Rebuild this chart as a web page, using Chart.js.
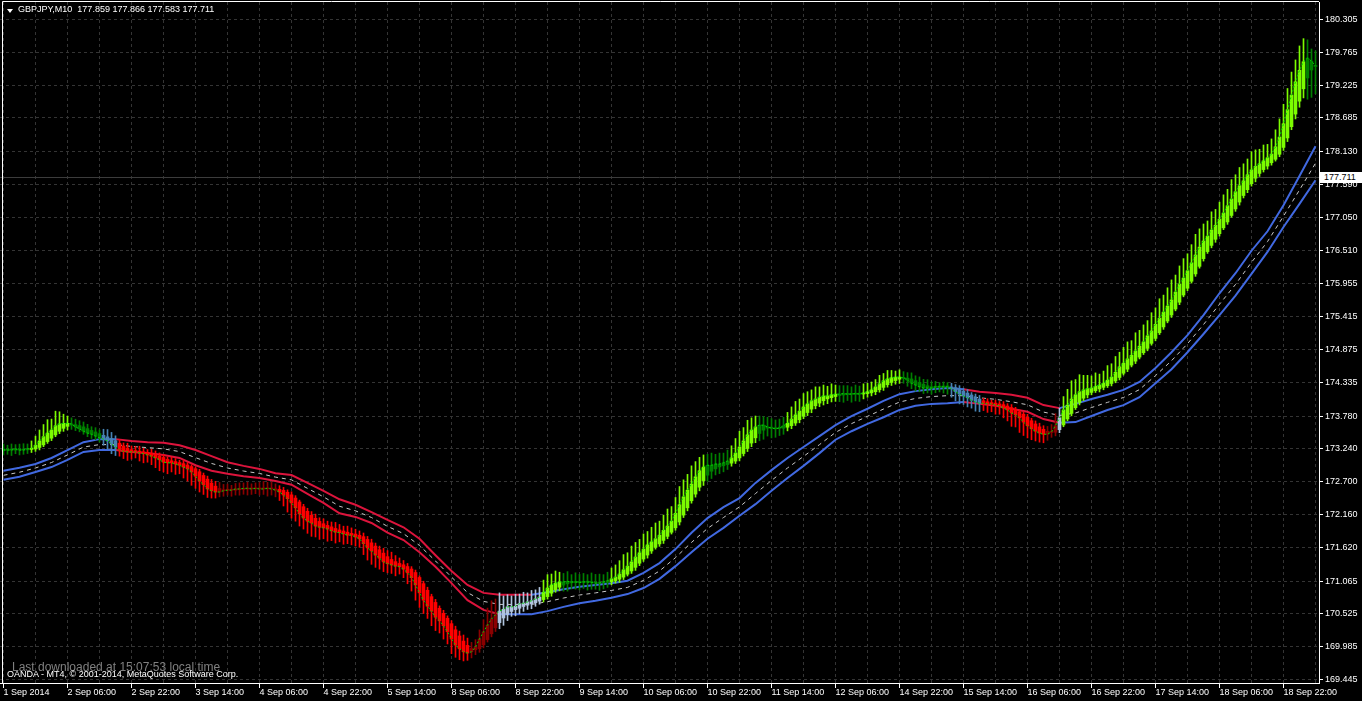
<!DOCTYPE html>
<html lang="en">
<head>
<meta charset="UTF-8">
<title>GBPJPY,M10</title>
<style>
    html, body {
        margin: 0;
        padding: 0;
        background: #000;
        overflow: hidden;
    }
    #wrap {
        position: relative;
        width: 1362px;
        height: 701px;
    }
    canvas { display: block; }
    .txt {
        position: absolute;
        font-family: 'Liberation Sans', Arial, sans-serif;
        white-space: nowrap;
    }
    #tri {
        position: absolute;
        left: 7px;
        top: 9px;
        width: 0;
        height: 0;
        border-left: 3px solid transparent;
        border-right: 3px solid transparent;
        border-top: 4px solid #fff;
    }
    #title { left: 18px; top: 4px; font-size: 9px; line-height: 11px; color: #fff; }
    #dl { left: 12px; top: 660px; font-size: 12px; line-height: 14px; color: #808080; }
    #copy { left: 7px; top: 669px; font-size: 9px; line-height: 11px; color: #fff; }
    #price {
        left: 1320px; top: 172px; width: 38px; height: 11px;
        padding-left: 4px; background: #fff; color: #000;
        font-size: 9px; line-height: 11px;
    }
</style>
</head>
<body>
<div id="wrap">
    <canvas id="chart" width="1362" height="701"></canvas>
    <div id="tri"></div>
    <div class="txt" id="title">GBPJPY,M10&nbsp; 177.859 177.866 177.583 177.711</div>
    <div class="txt" id="dl">Last downloaded at 15:07:53 local time</div>
    <div class="txt" id="copy">OANDA - MT4, © 2001-2014, MetaQuotes Software Corp.</div>
    <div class="txt" id="price">177.711</div>
</div>
<script src="https://cdn.jsdelivr.net/npm/chart.js"></script>
<script>
// time labels, one every 16 bars
const xTickLabels = ['1 Sep 2014', '2 Sep 06:00', '2 Sep 22:00', '3 Sep 14:00', '4 Sep 06:00', '4 Sep 22:00',
    '5 Sep 14:00', '8 Sep 06:00', '8 Sep 22:00', '9 Sep 14:00', '10 Sep 06:00', '10 Sep 22:00', '11 Sep 14:00',
    '12 Sep 06:00', '14 Sep 22:00', '15 Sep 14:00', '16 Sep 06:00', '16 Sep 22:00', '17 Sep 14:00',
    '18 Sep 06:00', '18 Sep 22:00'];

const yTickLabels = [169.445, 169.985, 170.525, 171.065, 171.620, 172.160, 172.700, 173.240, 173.780, 174.335,
    174.875, 175.415, 175.955, 176.510, 177.050, 177.590, 178.130, 178.685, 179.225, 179.765, 180.305];

const lastPrice = 177.711;

// smoothed heiken ashi close, one per bar
const haClose = [
    173.22, 173.22, 173.22, 173.24, 173.22, 173.22, 173.24, 173.25, 173.30, 173.37,
    173.44, 173.50, 173.55, 173.62, 173.65, 173.66, 173.66, 173.65, 173.60, 173.57,
    173.53, 173.50, 173.48, 173.45, 173.42, 173.40, 173.37, 173.32, 173.27, 173.22,
    173.20, 173.19, 173.19, 173.19, 173.17, 173.16, 173.14, 173.12, 173.09, 173.06,
    173.02, 173.01, 173.01, 172.99, 172.97, 172.94, 172.91, 172.86, 172.79, 172.71,
    172.65, 172.58, 172.55, 172.53, 172.53, 172.55, 172.56, 172.56, 172.58, 172.58,
    172.59, 172.59, 172.58, 172.59, 172.58, 172.58, 172.59, 172.58, 172.56, 172.53,
    172.48, 172.42, 172.35, 172.27, 172.17, 172.10, 172.05, 172.02, 171.97, 171.95,
    171.94, 171.92, 171.89, 171.87, 171.86, 171.84, 171.82, 171.82, 171.79, 171.76,
    171.68, 171.61, 171.56, 171.49, 171.44, 171.38, 171.35, 171.33, 171.31, 171.30,
    171.26, 171.20, 171.12, 171.00, 170.87, 170.75, 170.65, 170.57, 170.47, 170.41,
    170.33, 170.23, 170.11, 170.01, 169.95, 169.90, 169.88, 169.90, 169.98, 170.11,
    170.23, 170.34, 170.44, 170.51, 170.57, 170.60, 170.64, 170.64, 170.65, 170.69,
    170.70, 170.72, 170.74, 170.77, 170.80, 170.88, 170.95, 171.00, 171.03, 171.05,
    171.05, 171.06, 171.05, 171.05, 171.04, 171.05, 171.05, 171.04, 171.03, 171.03,
    171.05, 171.07, 171.10, 171.13, 171.18, 171.25, 171.31, 171.38, 171.46, 171.53,
    171.59, 171.66, 171.71, 171.76, 171.82, 171.90, 171.97, 172.05, 172.18, 172.32,
    172.45, 172.56, 172.66, 172.78, 172.88, 172.94, 172.97, 172.97, 172.99, 172.99,
    173.01, 173.04, 173.09, 173.17, 173.27, 173.37, 173.47, 173.55, 173.60, 173.63,
    173.63, 173.60, 173.58, 173.57, 173.58, 173.62, 173.66, 173.73, 173.80, 173.86,
    173.93, 173.98, 174.03, 174.06, 174.09, 174.11, 174.11, 174.13, 174.14, 174.14,
    174.15, 174.14, 174.14, 174.15, 174.14, 174.16, 174.18, 174.21, 174.26, 174.31,
    174.36, 174.39, 174.41, 174.42, 174.42, 174.41, 174.37, 174.32, 174.29, 174.26,
    174.24, 174.24, 174.24, 174.26, 174.26, 174.26, 174.26, 174.23, 174.18, 174.14,
    174.11, 174.08, 174.04, 174.01, 173.99, 173.99, 173.98, 173.98, 173.96, 173.95,
    173.91, 173.88, 173.83, 173.80, 173.75, 173.68, 173.62, 173.57, 173.53, 173.50,
    173.48, 173.48, 173.52, 173.62, 173.75, 173.88, 173.96, 174.06, 174.13, 174.18,
    174.21, 174.23, 174.24, 174.27, 174.29, 174.32, 174.37, 174.42, 174.50, 174.59,
    174.65, 174.72, 174.78, 174.85, 174.93, 175.00, 175.10, 175.18, 175.29, 175.39,
    175.49, 175.59, 175.69, 175.82, 175.95, 176.05, 176.17, 176.30, 176.43, 176.56,
    176.66, 176.74, 176.84, 176.92, 177.02, 177.12, 177.24, 177.35, 177.47, 177.57,
    177.65, 177.75, 177.83, 177.89, 177.93, 177.98, 178.03, 178.09, 178.21, 178.37,
    178.59, 178.82, 179.06, 179.28, 179.47, 179.61, 179.67, 179.62, 179.54
];

// wick length above / below the body, per bar
const upWick = [
    0.10, 0.08, 0.10, 0.07, 0.09, 0.10, 0.08, 0.12, 0.15, 0.18,
    0.20, 0.22, 0.18, 0.24, 0.20, 0.15, 0.12, 0.10, 0.09, 0.08,
    0.08, 0.07, 0.06, 0.07, 0.06, 0.10, 0.12, 0.10, 0.08, 0.06,
    0.05, 0.08, 0.06, 0.07, 0.08, 0.06, 0.05, 0.07, 0.06, 0.05,
    0.05, 0.04, 0.06, 0.05, 0.04, 0.05, 0.04, 0.03, 0.03, 0.04,
    0.04, 0.05, 0.06, 0.08, 0.10, 0.09, 0.10, 0.08, 0.09, 0.10,
    0.09, 0.10, 0.08, 0.09, 0.10, 0.12, 0.10, 0.11, 0.08, 0.06,
    0.05, 0.04, 0.05, 0.04, 0.03, 0.04, 0.05, 0.06, 0.07, 0.06,
    0.08, 0.07, 0.08, 0.10, 0.09, 0.08, 0.10, 0.09, 0.08, 0.07,
    0.06, 0.05, 0.06, 0.05, 0.06, 0.08, 0.10, 0.12, 0.10, 0.09,
    0.07, 0.05, 0.04, 0.04, 0.03, 0.04, 0.05, 0.04, 0.05, 0.04,
    0.05, 0.04, 0.05, 0.06, 0.08, 0.10, 0.12, 0.10, 0.12, 0.15,
    0.20, 0.28, 0.30, 0.26, 0.30, 0.22, 0.20, 0.18, 0.20, 0.16,
    0.18, 0.15, 0.17, 0.15, 0.16, 0.20, 0.22, 0.18, 0.20, 0.16,
    0.14, 0.16, 0.12, 0.15, 0.13, 0.14, 0.12, 0.15, 0.13, 0.14,
    0.12, 0.14, 0.18, 0.20, 0.22, 0.25, 0.22, 0.26, 0.24, 0.22,
    0.25, 0.22, 0.24, 0.26, 0.23, 0.25, 0.28, 0.24, 0.26, 0.30,
    0.28, 0.26, 0.30, 0.25, 0.22, 0.20, 0.18, 0.20, 0.16, 0.18,
    0.16, 0.18, 0.20, 0.24, 0.26, 0.22, 0.24, 0.20, 0.18, 0.15,
    0.14, 0.16, 0.15, 0.13, 0.15, 0.14, 0.18, 0.20, 0.22, 0.20,
    0.22, 0.20, 0.18, 0.20, 0.17, 0.18, 0.16, 0.18, 0.15, 0.14,
    0.13, 0.14, 0.12, 0.14, 0.13, 0.15, 0.14, 0.13, 0.12, 0.14,
    0.12, 0.14, 0.12, 0.10, 0.12, 0.10, 0.09, 0.10, 0.08, 0.09,
    0.08, 0.10, 0.08, 0.09, 0.07, 0.08, 0.07, 0.06, 0.05, 0.06,
    0.05, 0.06, 0.04, 0.05, 0.06, 0.04, 0.05, 0.04, 0.05, 0.04,
    0.05, 0.04, 0.05, 0.04, 0.03, 0.04, 0.05, 0.04, 0.05, 0.06,
    0.06, 0.08, 0.12, 0.20, 0.16, 0.22, 0.26, 0.30, 0.25, 0.28,
    0.24, 0.22, 0.20, 0.22, 0.18, 0.20, 0.24, 0.22, 0.26, 0.24,
    0.26, 0.28, 0.24, 0.30, 0.26, 0.28, 0.25, 0.30, 0.27, 0.32,
    0.28, 0.30, 0.33, 0.28, 0.30, 0.32, 0.28, 0.30, 0.34, 0.30,
    0.28, 0.25, 0.30, 0.26, 0.28, 0.30, 0.27, 0.32, 0.28, 0.30,
    0.28, 0.26, 0.30, 0.27, 0.24, 0.26, 0.22, 0.25, 0.28, 0.30,
    0.32, 0.35, 0.38, 0.36, 0.40, 0.38, 0.30, 0.20, 0.25
];
const dnWick = [
    0.08, 0.07, 0.09, 0.06, 0.08, 0.07, 0.06, 0.05, 0.04, 0.04,
    0.03, 0.03, 0.04, 0.03, 0.04, 0.05, 0.06, 0.07, 0.06, 0.05,
    0.05, 0.06, 0.07, 0.06, 0.07, 0.10, 0.14, 0.16, 0.14, 0.10,
    0.12, 0.14, 0.12, 0.10, 0.13, 0.15, 0.12, 0.14, 0.16, 0.18,
    0.16, 0.18, 0.15, 0.17, 0.14, 0.18, 0.20, 0.22, 0.20, 0.18,
    0.16, 0.14, 0.12, 0.10, 0.08, 0.09, 0.08, 0.10, 0.08, 0.09,
    0.08, 0.10, 0.09, 0.08, 0.10, 0.09, 0.12, 0.10, 0.11, 0.14,
    0.18, 0.22, 0.25, 0.22, 0.20, 0.18, 0.20, 0.22, 0.18, 0.20,
    0.18, 0.20, 0.16, 0.18, 0.15, 0.17, 0.14, 0.16, 0.15, 0.14,
    0.18, 0.20, 0.22, 0.20, 0.18, 0.16, 0.15, 0.14, 0.16, 0.12,
    0.14, 0.18, 0.22, 0.25, 0.24, 0.22, 0.20, 0.24, 0.22, 0.20,
    0.22, 0.20, 0.24, 0.20, 0.18, 0.15, 0.12, 0.10, 0.08, 0.06,
    0.05, 0.04, 0.05, 0.06, 0.10, 0.12, 0.10, 0.08, 0.10, 0.09,
    0.08, 0.07, 0.08, 0.06, 0.05, 0.04, 0.04, 0.05, 0.04, 0.06,
    0.10, 0.12, 0.10, 0.11, 0.12, 0.10, 0.13, 0.11, 0.10, 0.12,
    0.10, 0.08, 0.05, 0.04, 0.05, 0.04, 0.03, 0.04, 0.05, 0.04,
    0.04, 0.05, 0.04, 0.03, 0.04, 0.05, 0.04, 0.03, 0.04, 0.05,
    0.04, 0.05, 0.04, 0.05, 0.06, 0.08, 0.10, 0.12, 0.10, 0.11,
    0.10, 0.08, 0.05, 0.04, 0.05, 0.04, 0.05, 0.06, 0.08, 0.12,
    0.15, 0.13, 0.16, 0.14, 0.12, 0.10, 0.06, 0.05, 0.04, 0.05,
    0.04, 0.05, 0.06, 0.05, 0.06, 0.07, 0.08, 0.07, 0.08, 0.10,
    0.12, 0.10, 0.13, 0.11, 0.12, 0.08, 0.06, 0.05, 0.05, 0.04,
    0.05, 0.04, 0.05, 0.06, 0.07, 0.08, 0.10, 0.09, 0.10, 0.08,
    0.09, 0.08, 0.10, 0.09, 0.08, 0.10, 0.12, 0.14, 0.15, 0.16,
    0.14, 0.15, 0.13, 0.15, 0.14, 0.12, 0.14, 0.13, 0.15, 0.14,
    0.16, 0.18, 0.22, 0.20, 0.24, 0.22, 0.20, 0.18, 0.16, 0.15,
    0.14, 0.10, 0.08, 0.06, 0.05, 0.03, 0.03, 0.04, 0.03, 0.04,
    0.04, 0.05, 0.04, 0.03, 0.05, 0.04, 0.03, 0.04, 0.03, 0.04,
    0.03, 0.04, 0.03, 0.04, 0.03, 0.03, 0.04, 0.03, 0.04, 0.03,
    0.04, 0.03, 0.04, 0.03, 0.04, 0.03, 0.04, 0.03, 0.04, 0.03,
    0.04, 0.03, 0.04, 0.05, 0.04, 0.03, 0.04, 0.03, 0.04, 0.05,
    0.04, 0.05, 0.04, 0.06, 0.05, 0.04, 0.05, 0.04, 0.03, 0.04,
    0.05, 0.06, 0.05, 0.08, 0.10, 0.15, 0.35, 0.45, 0.45
];

// candle colour state, as runs of [state, number of bars]
const colorRuns = [['dg', 7], ['g', 10], ['dg', 8], ['sb', 4], ['r', 25], ['dr', 15], ['r', 48], ['dr', 7],
    ['ls', 11], ['g', 5], ['dg', 12], ['g', 24], ['dg', 6], ['g', 7], ['dg', 7], ['g', 13], ['dg', 6], ['g', 10],
    ['dg', 12], ['sb', 8], ['r', 16], ['dr', 3], ['ls', 1], ['g', 61], ['dg', 3]];

// channel lines, sampled every 4 bars
const BAND_STEP = 4;
const bandUpper = [
    172.88, 172.93, 172.99, 173.09, 173.22, 173.35, 173.40, 173.40, 173.37, 173.35,
    173.34, 173.30, 173.22, 173.12, 173.02, 172.96, 172.91, 172.84, 172.81, 172.68,
    172.55, 172.41, 172.32, 172.20, 172.07, 171.95, 171.76, 171.49, 171.23, 171.00,
    170.87, 170.84, 170.84, 170.84, 170.88, 170.93, 170.97, 171.00, 171.03, 171.07,
    171.20, 171.36, 171.59, 171.86, 172.10, 172.28, 172.43, 172.68, 172.89, 173.09,
    173.27, 173.45, 173.63, 173.78, 173.90, 174.03, 174.14, 174.19, 174.22, 174.24,
    174.22, 174.18, 174.16, 174.13, 174.08, 173.96, 173.91, 173.98, 174.06, 174.13,
    174.21, 174.34, 174.57, 174.83, 175.11, 175.44, 175.80, 176.13, 176.50, 176.82,
    177.25, 177.73, 178.22
];
const bandLower = [
    172.73, 172.78, 172.86, 172.94, 173.06, 173.19, 173.22, 173.22, 173.19, 173.17,
    173.14, 173.09, 172.97, 172.88, 172.83, 172.79, 172.76, 172.71, 172.65, 172.50,
    172.35, 172.18, 172.12, 172.02, 171.86, 171.74, 171.54, 171.30, 171.03, 170.75,
    170.59, 170.52, 170.52, 170.52, 170.57, 170.64, 170.70, 170.74, 170.79, 170.85,
    170.95, 171.10, 171.31, 171.54, 171.76, 171.94, 172.14, 172.33, 172.55, 172.76,
    172.96, 173.17, 173.39, 173.53, 173.65, 173.76, 173.88, 173.95, 173.98, 173.99,
    174.01, 173.98, 173.95, 173.90, 173.85, 173.73, 173.67, 173.68, 173.78, 173.88,
    173.96, 174.09, 174.32, 174.55, 174.83, 175.13, 175.44, 175.76, 176.12, 176.48,
    176.89, 177.27, 177.66
];
// trend of each channel line: [first bar, 'up' | 'dn']
const upperTrend = [[0, 'up'], [28, 'dn'], [130, 'up'], [238, 'dn'], [264, 'up']];
const lowerTrend = [[0, 'up'], [26, 'dn'], [124, 'up'], [237, 'dn'], [264, 'up']];

const CANDLE = { g: '#7CFC00', dg: '#008000', r: '#FF0000', dr: '#8B0000', sb: '#4682B4', ls: '#B0C4DE' };
const BLUE = '#4169E1';
const RED = '#DC143C';
const GRID = '#343434';

const state = [];
colorRuns.forEach(([s, n]) => { for (let k = 0; k < n; k++) state.push(s); });
const barColors = state.map(s => CANDLE[s]);

// smoothed HA open: lags the close a little more than plain heiken ashi
const haOpen = [];
haClose.forEach((c, i) => haOpen.push(i === 0 ? c : 0.6 * haOpen[i - 1] + 0.4 * haClose[i - 1]));

const bodies = haClose.map((c, i) => ({ x: i, y: [haOpen[i], c] }));
const wicks = haClose.map((c, i) => ({
    x: i,
    y: [Math.min(haOpen[i], c) - dnWick[i], Math.max(haOpen[i], c) + upWick[i]]
}));
const upperPts = bandUpper.map((v, k) => ({ x: k * BAND_STEP, y: v }));
const lowerPts = bandLower.map((v, k) => ({ x: k * BAND_STEP, y: v }));
const midPts = bandUpper.map((v, k) => ({ x: k * BAND_STEP, y: (v + bandLower[k]) / 2 }));

function trendAt(runs, bar) {
    let t = runs[0][1];
    runs.forEach(([b, s]) => { if (bar >= b) t = s; });
    return t;
}

const frame = {
    id: 'frame',
    beforeDatasetsDraw(chart) {
        const { ctx, chartArea: a, scales: { y } } = chart;
        const py = Math.round(y.getPixelForValue(lastPrice)) + 0.5;
        ctx.save();
        ctx.strokeStyle = '#3c3c3c';
        ctx.lineWidth = 1;
        ctx.beginPath();
        ctx.moveTo(a.left, py);
        ctx.lineTo(a.right, py);
        ctx.stroke();
        ctx.restore();
    },
    afterDraw(chart) {
        const { ctx, chartArea: a } = chart;
        ctx.save();
        ctx.strokeStyle = '#fff';
        ctx.lineWidth = 1;
        ctx.beginPath();
        ctx.moveTo(2.5, a.bottom);
        ctx.lineTo(2.5, 1.5);
        ctx.lineTo(a.right, 1.5);
        ctx.stroke();
        ctx.restore();
    }
};

const font = { family: "'Liberation Sans', Arial, sans-serif", size: 9, lineHeight: 1 };

const chart = new Chart(document.getElementById('chart'), {
    data: {
        datasets: [
            {
                type: 'line', data: haClose.map((c, i) => ({ x: i, y: c })),
                borderColor: '#00d800', borderWidth: 1, borderDash: [2, 2], pointRadius: 0
            },
            {
                type: 'bar', data: bodies, backgroundColor: barColors, barThickness: 3,
                grouped: false, borderWidth: 0, minBarLength: 1
            },
            {
                type: 'bar', data: wicks, backgroundColor: barColors, barThickness: 1,
                grouped: false, borderWidth: 0
            },
            {
                type: 'line', data: midPts, borderColor: '#c8c8c8', borderWidth: 1,
                borderDash: [4, 4], pointRadius: 0
            },
            {
                type: 'line', data: upperPts, borderColor: BLUE, borderWidth: 2, pointRadius: 0,
                segment: { borderColor: c => trendAt(upperTrend, c.p0.parsed.x) === 'up' ? BLUE : RED }
            },
            {
                type: 'line', data: lowerPts, borderColor: BLUE, borderWidth: 2, pointRadius: 0,
                segment: { borderColor: c => trendAt(lowerTrend, c.p0.parsed.x) === 'up' ? BLUE : RED }
            }
        ]
    },
    options: {
        responsive: false,
        animation: false,
        devicePixelRatio: 1,
        events: [],
        layout: { padding: { top: 2, left: 0, right: 0, bottom: 0 } },
        plugins: { legend: { display: false }, tooltip: { enabled: false } },
        scales: {
            x: {
                type: 'linear',
                bounds: 'data',
                offset: false,
                min: -0.875,
                max: 328.875,
                afterBuildTicks: axis => {
                    const t = [];
                    for (let v = 0; v <= 328; v += 8) t.push({ value: v });
                    axis.ticks = t;
                },
                afterFit: axis => {
                    axis.height = 18;
                    axis.paddingLeft = 0;
                    axis.paddingRight = 0;
                },
                ticks: {
                    autoSkip: false, maxRotation: 0, minRotation: 0, align: 'start', padding: 0,
                    color: '#fff', font: font,
                    callback: v => (v % 16 === 0 ? xTickLabels[v / 16] : '')
                },
                grid: {
                    offset: false, color: GRID, tickLength: 5,
                    tickColor: c => (c.tick && c.tick.value % 16 === 0 ? '#fff' : 'rgba(0,0,0,0)')
                },
                border: { color: '#fff', width: 1, dash: [3, 3] }
            },
            y: {
                type: 'linear',
                position: 'right',
                bounds: 'data',
                min: 169.387,
                max: 180.593,
                afterBuildTicks: axis => { axis.ticks = yTickLabels.map(v => ({ value: v })); },
                afterFit: axis => {
                    axis.width = 43;
                    axis.paddingTop = 0;
                    axis.paddingBottom = 0;
                },
                ticks: {
                    color: '#fff', font: font, padding: 2,
                    callback: v => v.toFixed(3)
                },
                grid: { color: GRID, tickLength: 4, tickColor: '#fff' },
                border: { color: '#fff', width: 1, dash: [3, 3] }
            }
        }
    },
    plugins: [frame]
});

// put the price tag on the bid line
const tag = document.getElementById('price');
tag.style.top = (Math.round(chart.scales.y.getPixelForValue(lastPrice)) - 5) + 'px';
</script>
</body>
</html>
